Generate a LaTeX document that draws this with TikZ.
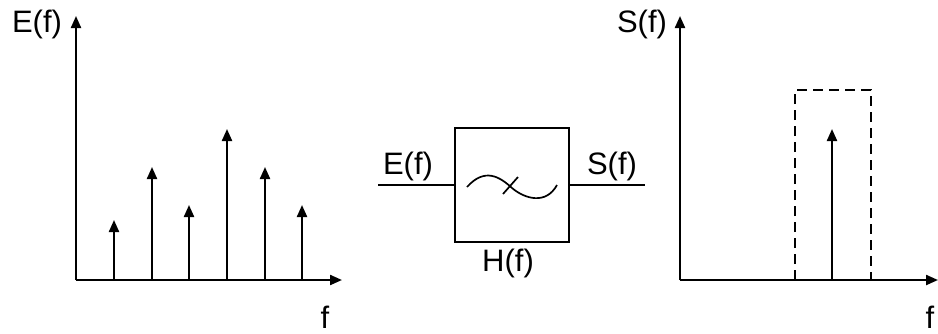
\documentclass[tikz,border=0pt]{standalone}
\usepackage{fontspec}
\setmainfont{Liberation Sans}
\usetikzlibrary{arrows.meta,positioning}
\tikzset{
  lbl/.style={inner sep=0pt, font=\fontsize{31}{33}\selectfont},
  trait/.style={line width=2.2pt},
  axe/.style={trait, -{Triangle[length=12pt,width=10pt]}},
  raie/.style={trait, -{Triangle[length=12pt,width=10pt]}},
}
\begin{document}
\begin{tikzpicture}[x=1pt, y=-1pt]
	\useasboundingbox (0,0) rectangle (938,333);
	% spectre d'entree
	\coordinate (O1) at (76,280);
	\coordinate (Y1) at (76,16);
	\coordinate (X1) at (342,280);
	\draw[axe] (O1) -- (Y1);
	\draw[axe] (O1) -- (X1);
	\node[lbl] (E1) at (37,24) {E(f)};
	\node[lbl] (f1) at (325,317) {f};
	\foreach \x/\h in {114/220, 152/167, 189/205, 227/129, 265/167, 302/205}
		\draw[raie] (\x,280) -- (\x,\h);
	% filtre
	\node[draw, trait, minimum size=114pt, inner sep=0pt] (H) at (512,185) {};
	\coordinate (in) at (378,185);
	\coordinate (out) at (645,185);
	\draw[trait] (in) -- (H.west);
	\draw[trait] (H.east) -- (out);
	\node[lbl] (E2) at (408,166) {E(f)};
	\node[lbl] (S2) at (612,166) {S(f)};
	\node[lbl] (Hf) at (508,263) {H(f)};
	\draw[line width=1.7pt] (467,187) .. controls (485,167) and (500,177) .. (512,188)
		.. controls (525,199) and (546,205) .. (557,185);
	\draw[line width=1.7pt] (503,194) -- (518,177);
	% spectre de sortie
	\coordinate (O2) at (680,280);
	\coordinate (Y2) at (680,16);
	\coordinate (X2) at (938,280);
	\draw[axe] (O2) -- (Y2);
	\draw[axe] (O2) -- (X2);
	\node[lbl] (S1) at (642,24) {S(f)};
	\node[lbl] (f2) at (930,317) {f};
	\draw[trait, dashed, dash pattern=on 10pt off 6pt] (795,280) -- (795,90) -- (871,90) -- (871,280);
	\draw[raie] (832,280) -- (832,129);
\end{tikzpicture}
\end{document}
